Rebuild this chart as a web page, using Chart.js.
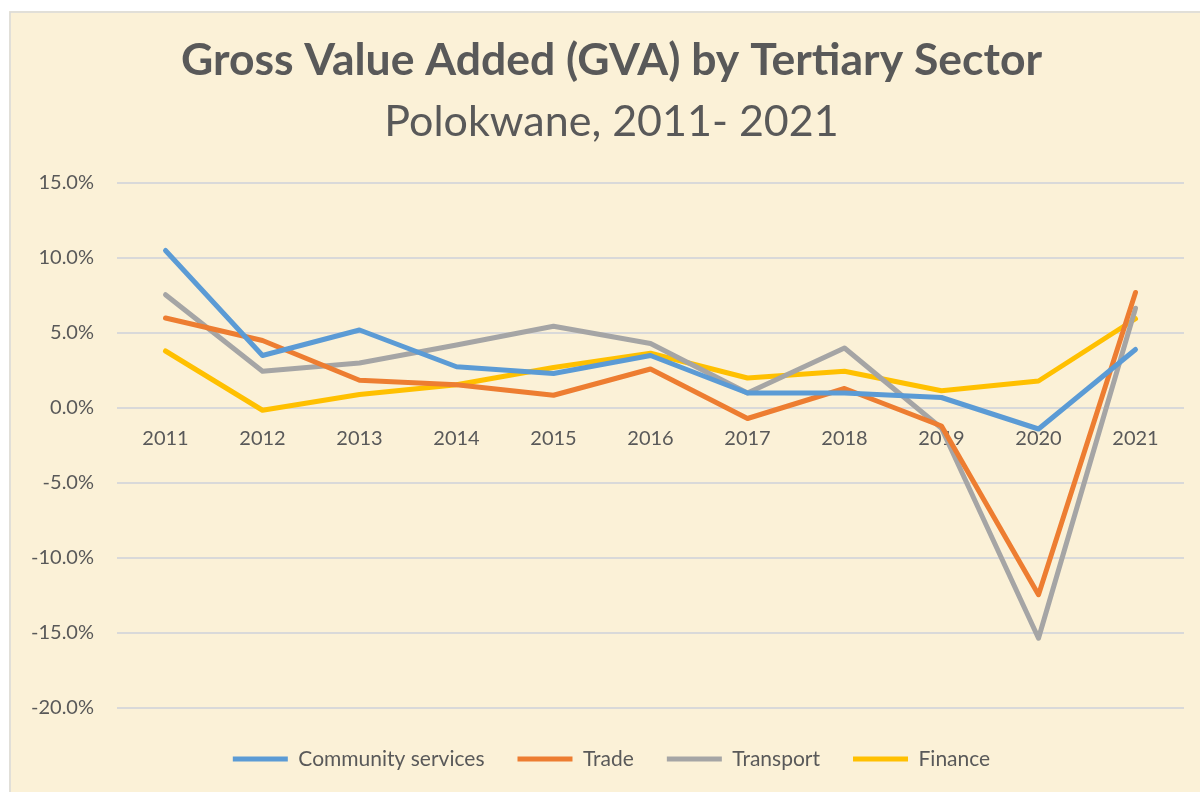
<!DOCTYPE html>
<html>
<head>
<meta charset="utf-8">
<script src="https://cdn.jsdelivr.net/npm/chart.js@4.4.1/dist/chart.umd.min.js"></script>
<style>
  html, body { margin: 0; padding: 0; background: #ffffff; overflow: hidden; width: 1200px; height: 792px; }
  #wrap { position: absolute; left: 9px; top: 11px; width: 1205px; height: 781px; }
</style>
</head>
<body>
<div id="wrap"><canvas id="c"></canvas></div>
<script>
const years = ['2011','2012','2013','2014','2015','2016','2017','2018','2019','2020','2021'];
const communityServices = [10.5, 3.5, 5.2, 2.75, 2.3, 3.5, 1.0, 1.0, 0.7, -1.4, 3.9];
const trade = [6.0, 4.5, 1.85, 1.55, 0.85, 2.6, -0.7, 1.3, -1.2, -12.45, 7.7];
const transport = [7.55, 2.45, 3.0, 4.2, 5.45, 4.3, 1.0, 4.0, -1.35, -15.35, 6.65];
const finance = [3.8, -0.15, 0.9, 1.55, 2.7, 3.65, 2.0, 2.45, 1.15, 1.8, 5.95];
const seriesNames = ['Community services', 'Trade', 'Transport', 'Finance'];
const seriesColors = ['#5b9bd5', '#ed7d31', '#a5a5a5', '#ffc000'];
const yTickMin = -20, yTickMax = 15, yTickStep = 5;

const TEXT = '#595959';
const FONT = 'Lato, "Open Sans", sans-serif';

const bgPlugin = {
  id: 'bg',
  beforeDraw(chart) {
    const ctx = chart.ctx;
    const w = chart.width, h = chart.height;
    ctx.save();
    ctx.fillStyle = '#fbf1d7';
    ctx.fillRect(0, 0, w, h);
    ctx.strokeStyle = '#d9d9d9';
    ctx.lineWidth = 1.5;
    ctx.beginPath();
    ctx.moveTo(1, h);
    ctx.lineTo(1, 1);
    ctx.lineTo(w, 1);
    ctx.stroke();
    ctx.restore();
  }
};

const allData = [communityServices, trade, transport, finance];

new Chart(document.getElementById('c'), {
  type: 'line',
  data: {
    labels: years,
    datasets: allData.map((d, i) => ({
      label: seriesNames[i],
      data: d,
      yAxisID: 'y',
      borderColor: seriesColors[i],
      backgroundColor: seriesColors[i],
      borderWidth: 5,
      pointRadius: 0,
      pointHoverRadius: 0,
      tension: 0,
      borderCapStyle: 'round',
      borderJoinStyle: 'round',
      fill: false
    }))
  },
  options: {
    responsive: true,
    maintainAspectRatio: false,
    animation: false,
    layout: { padding: { top: 23, left: 11, right: 11, bottom: 12.5 } },
    plugins: {
      title: {
        display: true,
        text: 'Gross Value Added (GVA) by Tertiary Sector',
        color: TEXT,
        font: { family: FONT, size: 44.5, weight: 'bold', lineHeight: 1.2 },
        padding: { top: 0, bottom: 0 }
      },
      subtitle: {
        display: true,
        text: 'Polokwane, 2011- 2021',
        color: TEXT,
        font: { family: FONT, size: 43, weight: 'normal', lineHeight: 1.2 },
        padding: { top: 9.3, bottom: 34.7 }
      },
      legend: {
        position: 'bottom',
        title: {
          display: true,
          text: '',
          font: { size: 1, lineHeight: 1 },
          padding: { top: 0, bottom: 6.5 }
        },
        labels: {
          color: TEXT,
          font: { family: FONT, size: 21 },
          boxWidth: 55,
          boxHeight: 5,
          padding: 33,
          useBorderRadius: true,
          borderRadius: 2.5,
          generateLabels(chart) {
            return chart.data.datasets.map((ds, i) => ({
              text: ds.label,
              fillStyle: ds.borderColor,
              strokeStyle: ds.borderColor,
              lineWidth: 0,
              fontColor: TEXT,
              hidden: false,
              datasetIndex: i
            }));
          }
        }
      },
      tooltip: { enabled: false }
    },
    scales: {
      x: {
        type: 'category',
        offset: true,
        position: { y: 0 },
        grid: { display: false, drawTicks: false },
        border: { display: false },
        ticks: {
          color: TEXT,
          font: { family: FONT, size: 20 },
          padding: 19,
          maxRotation: 0,
          autoSkip: false
        }
      },
      y: {
        position: 'left',
        min: yTickMin,
        max: yTickMax,
        grid: { color: '#d9d9d9', lineWidth: 2, drawTicks: false },
        border: { display: false },
        afterFit(axis) { axis.width = 97; },
        ticks: {
          stepSize: yTickStep,
          color: TEXT,
          font: { family: FONT, size: 20 },
          padding: 23,
          callback: (v) => v.toFixed(1) + '%'
        }
      },
      yRight: {
        position: 'right',
        display: true,
        grid: { display: false, drawTicks: false },
        border: { display: false },
        ticks: { display: false },
        afterFit(axis) { axis.width = 19; }
      }
    }
  },
  plugins: [bgPlugin]
});
</script>
</body>
</html>
